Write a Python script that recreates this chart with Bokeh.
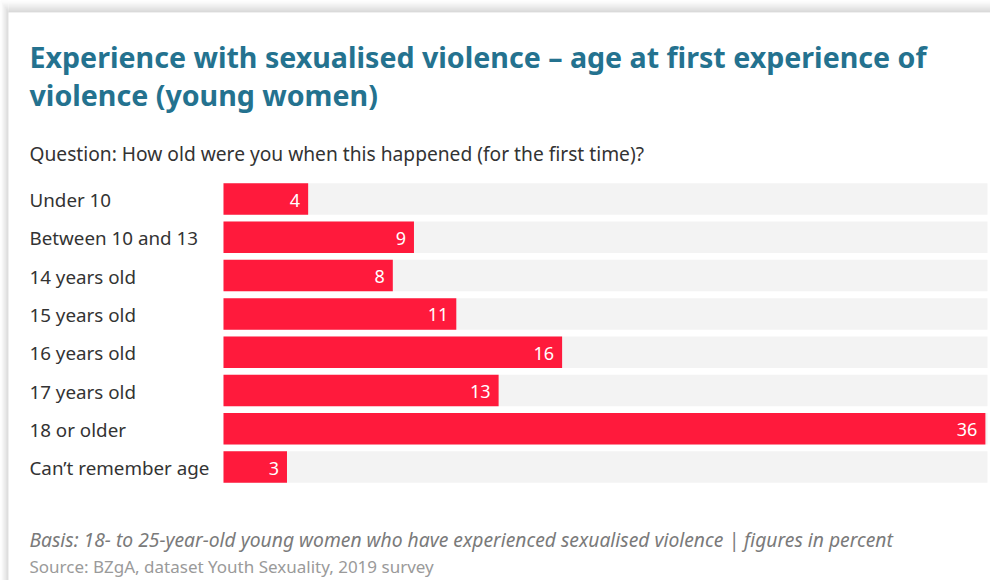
from bokeh.plotting import figure
from bokeh.models import Range1d, ColumnDataSource
from bokeh.core.properties import value
from bokeh.embed import file_html
from bokeh.resources import INLINE

# ---- data ----
categories = ["Under 10", "Between 10 and 13", "14 years old", "15 years old",
              "16 years old", "17 years old", "18 or older", "Can\u2019t remember age"]
values = [4, 9, 8, 11, 16, 13, 36, 3]
value_labels = [str(v) for v in values]
title_lines = ["Experience with sexualised violence \u2013 age at first experience of",
               "violence (young women)"]
question = "Question: How old were you when this happened (for the first time)?"
basis = "Basis: 18- to 25-year-old young women who have experienced sexualised violence | figures in percent"
source_txt = "Source: BZgA, dataset Youth Sexuality, 2019 survey"

# ---- layout (pixels in figure space) ----
W, H = 990, 580
track_left_px, track_right_px = 223, 987
scale_max = 36.1
k = (track_right_px - track_left_px) / scale_max
x_start = -track_left_px / k
x_end = (W - track_left_px) / k
left_text_x = (29 - track_left_px) / k

row0, row_step, bar_h = 198.5, 38.3, 31.5
ys = [row0 + i * row_step for i in range(len(categories))]

FONT = "Noto Sans"
RED = "#FF1A3C"
TEAL = "#24728F"

p = figure(width=W, height=H, output_backend="svg", toolbar_location=None,
           x_range=Range1d(x_start, x_end), y_range=Range1d(H, 0),
           min_border=0, min_border_left=0, min_border_right=0,
           min_border_top=0, min_border_bottom=0)
p.axis.visible = False
p.grid.visible = False
p.outline_line_color = None
p.background_fill_color = "white"
p.border_fill_color = "white"
p.extra_x_ranges = {"px": Range1d(0, W)}

# card shadow (top and left edges)
shadow_steps = [(0, "#fcfcfc"), (2, "#f7f7f7"), (4, "#f0f0f0"), (6, "#e9e9e9"),
                (8, "#e2e2e2"), (10, "#dadada")]
for off, col in shadow_steps:
    p.quad(left=off * 0.7, right=W, top=off, bottom=12, x_range_name="px",
           fill_color=col, line_color=None)
for off, col in shadow_steps:
    p.quad(left=off * 0.7, right=8, top=off, bottom=H, x_range_name="px",
           fill_color=col, line_color=None)
p.quad(left=8, right=W, top=12, bottom=H, x_range_name="px",
       fill_color="white", line_color=None)

src = ColumnDataSource(dict(cat=categories, val=values, lab=value_labels, y=ys,
                            track=[scale_max] * len(values)))

# background tracks
p.hbar(y="y", left=0, right="track", height=bar_h, source=src,
       fill_color="#F3F3F3", line_color=None)
# bars
p.hbar(y="y", left=0, right="val", height=bar_h, source=src,
       fill_color=RED, line_color=None)
# value labels
p.text(x="val", y="y", text="lab", source=src, text_align="right",
       text_baseline="middle", x_offset=-8, y_offset=1,
       text_color="white", text_font=value(FONT), text_font_size="18px")
# category labels
p.text(x=left_text_x, y="y", text="cat", source=src, text_align="left",
       text_baseline="middle", y_offset=1,
       text_color="#333333", text_font=value(FONT), text_font_size="18.8px")

# title
p.text(x=[left_text_x, left_text_x], y=[56, 94], text=title_lines,
       text_align="left", text_baseline="alphabetic", text_color=TEAL,
       text_font=value(FONT), text_font_style="bold", text_font_size="28.6px")
# question
p.text(x=[left_text_x], y=[153], text=[question], text_align="left",
       text_baseline="alphabetic", text_color="#333333",
       text_font=value(FONT), text_font_size="19.2px")
# footer
p.text(x=[left_text_x], y=[539], text=[basis], text_align="left",
       text_baseline="alphabetic", text_color="#7A7A7A",
       text_font=value(FONT), text_font_style="italic", text_font_size="19.3px")
p.text(x=[left_text_x], y=[566], text=[source_txt], text_align="left",
       text_baseline="alphabetic", text_color="#9A9A9A",
       text_font=value(FONT), text_font_size="17px")

open("out.html", "w").write(file_html(p, INLINE))
